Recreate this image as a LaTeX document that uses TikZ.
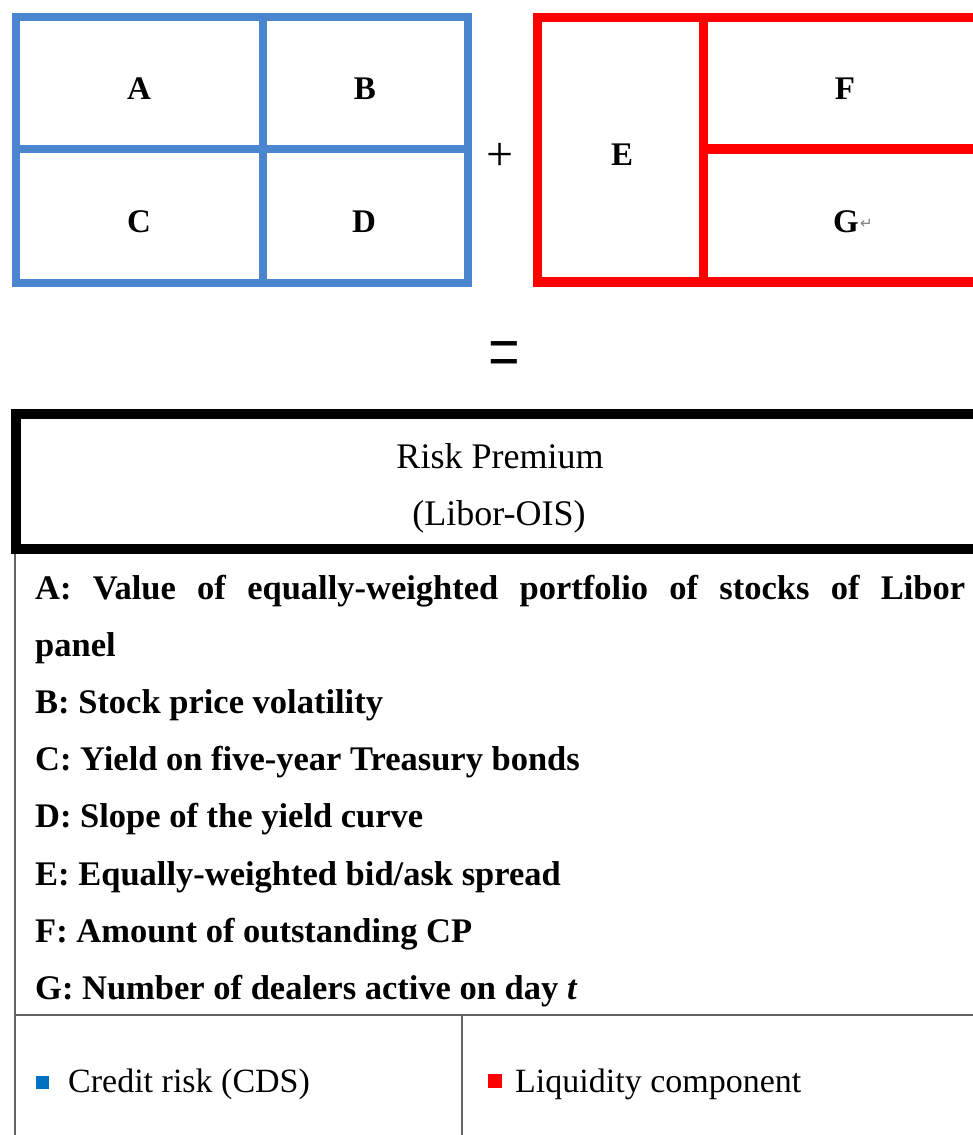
\documentclass[tikz,border=0pt]{standalone}
\usepackage{fontspec}
\setmainfont{Liberation Serif}
\newfontfamily\symfont{DejaVu Sans}
\definecolor{boxblue}{RGB}{74,134,208}
\definecolor{boxred}{RGB}{255,0,0}
\definecolor{legblue}{RGB}{0,112,192}
\definecolor{rulegray}{RGB}{100,100,100}
\tikzset{
  cellletter/.style={font=\fontsize{33}{36}\selectfont\bfseries, anchor=base, inner sep=0pt},
  listline/.style={font=\fontsize{34.5}{40}\selectfont\bfseries, anchor=base west, inner sep=0pt},
  legtext/.style={font=\fontsize{34}{40}\selectfont, anchor=base west, inner sep=0pt},
  titletext/.style={font=\fontsize{36}{40}\selectfont, anchor=base, inner sep=0pt},
  bluebox/.style={draw=boxblue, line width=8pt},
  redbox/.style={draw=boxred, line width=9.5pt},
  blackbox/.style={draw=black, line width=10pt},
  thinrule/.style={draw=rulegray, line width=2pt},
}
\begin{document}
\begin{tikzpicture}[x=1pt, y=-1pt]
\useasboundingbox (0,0) rectangle (973,1135);
\clip (0,0) rectangle (973,1135);
% blue box
\draw[bluebox] (16,17) rectangle (468,283);
\draw[bluebox] (263,17) -- (263,283);
\draw[bluebox] (16,148.5) -- (468,148.5);
\node[cellletter] (A) at (139,99) {A};
\node[cellletter] (B) at (365,99) {B};
\node[cellletter] (C) at (139,232) {C};
\node[cellletter] (D) at (364,232) {D};
% plus
\node[font=\fontsize{48}{50}\selectfont, inner sep=0pt] (plus) at (500,157) {+};
% red box
\draw[redbox] (1000,17.5) -- (537.5,17.5) -- (537.5,282) -- (1000,282);
\draw[redbox] (703.5,17.5) -- (703.5,282);
\draw[redbox] (703.5,149) -- (1000,149);
\node[cellletter] (E) at (622,165) {E};
\node[cellletter] (F) at (845,99) {F};
\node[cellletter] (G) at (846,232) {G};
\node[font=\symfont\fontsize{15}{16}\selectfont, text=gray, anchor=west, inner sep=0pt] (Gmark) at ([xshift=1pt]G.east |- 0,224) {↵};
% equals
\node[font=\fontsize{56}{58}\selectfont, inner sep=0pt] (equals) at (504,362) {\scalebox{1}[1.6]{=}};
% black box
\draw[blackbox] (1000,414) -- (16,414) -- (16,549) -- (1000,549);
\node[titletext] (rp) at (500,468) {Risk Premium};
\node[titletext] (lo) at (499,525) {(Libor-OIS)};
% table rules
\draw[thinrule] (14.5,554) -- (14.5,1140);
\draw[thinrule] (14.5,1015) -- (1000,1015);
\draw[thinrule] (462,1015) -- (462,1140);
% list
\node[listline] (la) at (35,599) {\makebox[930pt][s]{A: Value of equally-weighted portfolio of stocks of Libor}};
\node[listline] (lp) at (35,656.2) {panel};
\node[listline] (lb) at (35,713.4) {B: Stock price volatility};
\node[listline] (lc) at (35,770.6) {C: Yield on five-year Treasury bonds};
\node[listline] (ld) at (35,827.8) {D: Slope of the yield curve};
\node[listline] (le) at (35,885) {E: Equally-weighted bid/ask spread};
\node[listline] (lf) at (35,942.2) {F: Amount of outstanding CP};
\node[listline] (lg) at (35,999.4) {G: Number of dealers active on day \textit{t}};
% legend
\fill[legblue] (36,1076) rectangle (49,1089);
\node[legtext] (credit) at (68,1092) {Credit risk (CDS)};
\fill[boxred] (488,1074) rectangle (502,1088);
\node[legtext] (liq) at (515,1092) {Liquidity component};
\end{tikzpicture}
\end{document}
